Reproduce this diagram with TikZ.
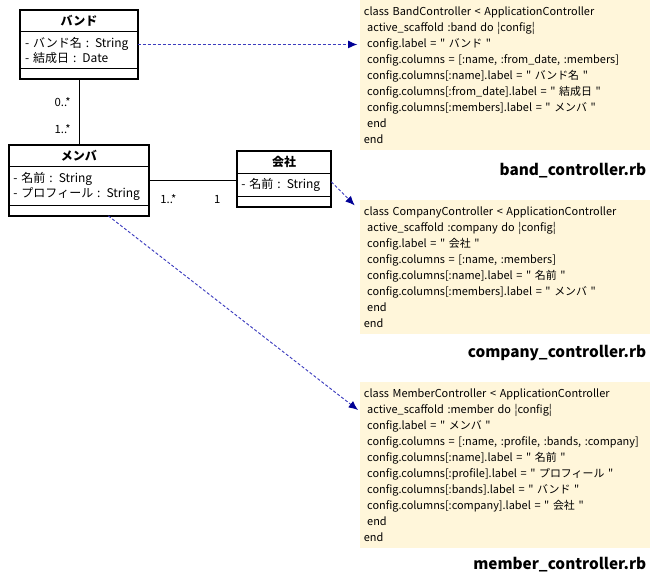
\documentclass[tikz,border=0pt]{standalone}
\usepackage{fontspec}
\setmainfont{Noto Sans CJK JP}
\newfontfamily\codefont{Noto Sans CJK JP}
\usepackage{tikz}
\usepackage{pgf-umlcd}
\usetikzlibrary{positioning,arrows.meta}

\definecolor{memo}{RGB}{255,246,218}
\definecolor{linkline}{RGB}{60,60,190}
\definecolor{linkhead}{RGB}{0,0,150}
\newcommand{\ind}{\hspace*{0.3em}}

\tikzset{
  codebox/.style={anchor=north west, fill=memo, text width=212pt, inner xsep=2.75pt,
    inner ysep=5pt, align=left, font=\codefont\fontsize{8.2}{12}\selectfont},
  filename/.style={inner sep=1pt, font=\fontsize{11.5}{13}\selectfont\bfseries},
  multi/.style={inner sep=1pt, font=\fontsize{8.5}{10}\selectfont},
  umlbox/.style={draw=black, fill=white, font=\fontsize{9}{11.25}\selectfont,
    inner ysep=3.7pt, rectangle split empty part height=5pt},
  controllerlink/.style={linkline, line width=0.7pt, dash pattern=on 2.25pt off 1.5pt,
    -{Latex[length=7pt,width=6pt,color=linkhead]}}
}

\begin{document}
\begin{tikzpicture}[x=0.75pt,y=-0.75pt]
\useasboundingbox (0,0) rectangle (650,574);

\begin{class}[text width=81pt, umlbox]{バンド}{79,10}
  \attribute{- バンド名 : String}
  \attribute{- 結成日 : Date}
\end{class}
\draw[line width=1.5pt] (バンド.north west) rectangle (バンド.south east);

\begin{class}[text width=98.5pt, umlbox]{メンバ}{79,145}
  \attribute{- 名前 : String}
  \attribute{- プロフィール : String}
\end{class}
\draw[line width=1.5pt] (メンバ.north west) rectangle (メンバ.south east);

\begin{class}[text width=64pt, umlbox]{会社}{284,151}
  \attribute{- 名前 : String}
\end{class}
\draw[line width=1.5pt] (会社.north west) rectangle (会社.south east);

% associations
\draw (バンド.south) -- (メンバ.north);
\node[multi, below left=13pt and 5pt of バンド.south] (bandmany) {0..*};
\node[multi, above left=7pt and 5pt of メンバ.north] (membermany) {1..*};
\draw (メンバ.east) -- (メンバ.east -| 会社.west);
\node[multi, below right=9pt and 7pt of メンバ.east] (companymany) {1..*};
\node[multi, below left=11pt and 11pt of 会社.west] (companyone) {1};

% controllers
\node[codebox] (bandcode) at (360,0) {class BandController < ApplicationController\\
  \ind active\_scaffold :band do ¦config¦\\
  \ind config.label = " バンド "\\
  \ind config.columns = [:name, :from\_date, :members]\\
  \ind config.columns[:name].label = " バンド名 "\\
  \ind config.columns[:from\_date].label = " 結成日 "\\
  \ind config.columns[:members].label = " メンバ "\\
  \ind end\\
  end};
\node[filename, below left=8pt and 2pt of bandcode.south east] (bandfile) {band\_controller.rb};

\node[codebox] (companycode) at (360,200) {class CompanyController < ApplicationController\\
  \ind active\_scaffold :company do ¦config¦\\
  \ind config.label = " 会社 "\\
  \ind config.columns = [:name, :members]\\
  \ind config.columns[:name].label = " 名前 "\\
  \ind config.columns[:members].label = " メンバ "\\
  \ind end\\
  end};
\node[filename, below left=7pt and 2pt of companycode.south east] (companyfile) {company\_controller.rb};

\node[codebox] (membercode) at (360,382) {class MemberController < ApplicationController\\
  \ind active\_scaffold :member do ¦config¦\\
  \ind config.label = " メンバ "\\
  \ind config.columns = [:name, :profile, :bands, :company]\\
  \ind config.columns[:name].label = " 名前 "\\
  \ind config.columns[:profile].label = " プロフィール "\\
  \ind config.columns[:bands].label = " バンド "\\
  \ind config.columns[:company].label = " 会社 "\\
  \ind end\\
  end};
\node[filename, below left=5pt and 2pt of membercode.south east] (memberfile) {member\_controller.rb};

% links to controllers
\draw[controllerlink, shorten >=2pt] (バンド.east) -- (バンド.east -| bandcode.west);
\draw[controllerlink] ([yshift=-2pt]会社.east) -- ([shift={(-4pt,-4pt)}]companycode.north west);
\draw[controllerlink] ([xshift=22pt]メンバ.south) -- ([shift={(-1.5pt,-21pt)}]membercode.north west);
\end{tikzpicture}
\end{document}
